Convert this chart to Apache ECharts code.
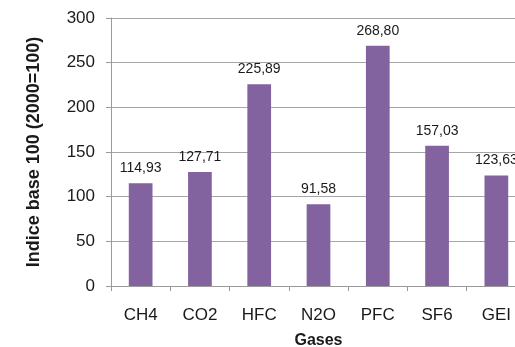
<!DOCTYPE html>
<html>
<head>
<meta charset="utf-8">
<script src="https://cdn.jsdelivr.net/npm/echarts@6/dist/echarts.min.js"></script>
<style>
  html, body { margin: 0; padding: 0; background: #ffffff; }
  #chart { width: 515px; height: 347px; }
</style>
</head>
<body>
<div id="chart"></div>
<script>
// Gas categories and their index values (base 100 in 2000)
const categories = ['CH4', 'CO2', 'HFC', 'N2O', 'PFC', 'SF6', 'GEI'];
const indexValues = [114.93, 127.71, 225.89, 91.58, 268.80, 157.03, 123.63];
const yTicks = [0, 50, 100, 150, 200, 250, 300];

const FONT = '"Liberation Sans", Arial, sans-serif';
const chart = echarts.init(document.getElementById('chart'), null, { renderer: 'canvas' });

chart.setOption({
  animation: false,
  textStyle: { fontFamily: FONT },
  // the plot area runs a little past the right edge of the canvas
  grid: { left: 111, top: 18, width: 415, height: 268, outerBoundsMode: 'none', containLabel: false },
  xAxis: {
    type: 'category',
    data: categories,
    name: 'Gases',
    nameLocation: 'middle',
    nameGap: 47,
    nameTextStyle: { fontFamily: FONT, fontSize: 16, fontWeight: 'bold', color: '#1a1a1a' },
    axisLine: { lineStyle: { color: '#9a9a9a', width: 1 } },
    axisTick: { show: true, length: 5, lineStyle: { color: '#9a9a9a' } },
    axisLabel: { fontFamily: FONT, fontSize: 17, color: '#1a1a1a', margin: 21 }
  },
  yAxis: {
    type: 'value',
    min: yTicks[0],
    max: yTicks[yTicks.length - 1],
    interval: 50,
    name: 'Indice base 100 (2000=100)',
    nameLocation: 'middle',
    nameGap: 68,
    nameTextStyle: { fontFamily: FONT, fontSize: 18, fontWeight: 'bold', color: '#1a1a1a' },
    axisLine: { show: true, lineStyle: { color: '#9a9a9a', width: 1 } },
    axisTick: { show: true, length: 5, lineStyle: { color: '#9a9a9a' } },
    axisLabel: { fontFamily: FONT, fontSize: 17, color: '#1a1a1a', margin: 16 },
    splitLine: { show: true, lineStyle: { color: '#a6a6a6', width: 1 } }
  },
  series: [{
    type: 'bar',
    data: indexValues,
    barWidth: '40%',
    itemStyle: { color: '#8263a0' },
    label: {
      show: true,
      position: 'top',
      distance: 8,
      fontFamily: FONT,
      fontSize: 14,
      color: '#1a1a1a',
      formatter: p => p.value.toFixed(2).replace('.', ',')
    }
  }]
});
</script>
</body>
</html>
